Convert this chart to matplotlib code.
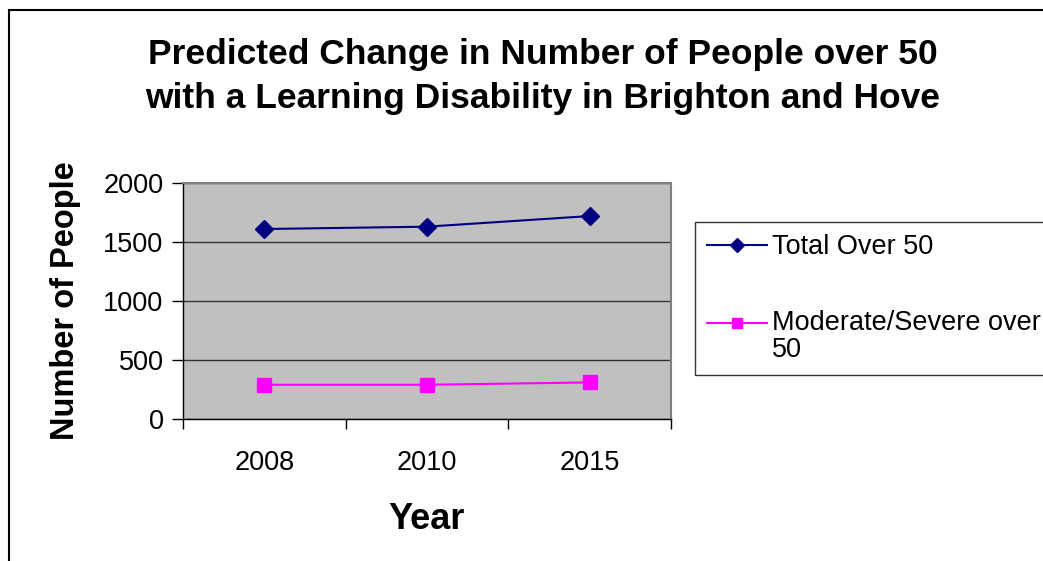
import numpy as np
import matplotlib
matplotlib.use('Agg')
import matplotlib.pyplot as plt
from matplotlib.patches import Rectangle
from matplotlib.legend_handler import HandlerLine2D

# data
years = ['2008', '2010', '2015']
total_over_50 = [1610, 1630, 1720]
moderate_severe_over_50 = [290, 290, 310]
y_ticks = [0, 500, 1000, 1500, 2000]

plt.rcParams['font.family'] = ['Liberation Sans', 'DejaVu Sans']

W, H = 1043, 561
fig = plt.figure(figsize=(W / 100, H / 100), dpi=100)


class TopLineHandler(HandlerLine2D):
    # put the legend handle next to the first line of a two line label
    def __init__(self, shift, **kw):
        super().__init__(**kw)
        self.shift = shift

    def create_artists(self, legend, orig_handle, xdescent, ydescent, width, height,
                       fontsize, trans):
        return super().create_artists(legend, orig_handle, xdescent, ydescent - self.shift,
                                      width, height, fontsize, trans)


# outer chart border (left and top visible, rest cut off)
fig.add_artist(Rectangle((9 / W, -0.1), 1.2, 1.1 - 10 / H, transform=fig.transFigure,
                         fill=False, edgecolor='black', linewidth=1.5, clip_on=False))

ax = fig.add_axes([183 / W, 1 - 419 / H, (671 - 183) / W, (419 - 183) / H])
ax.set_facecolor('#C0C0C0')

x = np.arange(len(years))
l1, = ax.plot(x, total_over_50, color='#000080', marker='D', markersize=9.5, linewidth=1.5,
              label='Total Over 50')
l2, = ax.plot(x, moderate_severe_over_50, color='#FF00FF', marker='s', markersize=9.5,
              linewidth=1.5, label='Moderate/Severe over\n50')

ax.set_xlim(-0.5, len(years) - 0.5)
ax.set_ylim(0, 2000)
ax.set_yticks(y_ticks)
ax.set_yticklabels([str(v) for v in y_ticks], fontsize=19.5)
ax.set_xticks(x)
ax.set_xticklabels(years, fontsize=19.5)
ax.set_xticks(np.arange(len(years) + 1) - 0.5, minor=True)
ax.tick_params(axis='x', which='major', length=0, pad=22)
ax.tick_params(axis='x', which='minor', length=7, width=1, direction='out')
ax.tick_params(axis='y', length=8, width=1, direction='out', pad=6)

ax.yaxis.grid(True, color='#333333', linewidth=1)
ax.set_axisbelow(True)

for side in ['top', 'right']:
    ax.spines[side].set_color('#808080')
    ax.spines[side].set_linewidth(1.5)
for side in ['left', 'bottom']:
    ax.spines[side].set_color('black')
    ax.spines[side].set_linewidth(1)

ax.set_ylabel('Number of People', fontsize=23.5, fontweight='bold')
ax.yaxis.set_label_coords(-0.209, 0.5)
ax.set_xlabel('Year', fontsize=26, fontweight='bold')
ax.xaxis.set_label_coords(0.5, -0.352)

fig.text(543 / W, 1 - 76.5 / H,
         'Predicted Change in Number of People over 50\nwith a Learning Disability in Brighton and Hove',
         ha='center', va='center', fontsize=25.5, fontweight='bold', linespacing=1.45)

leg = fig.legend(handles=[l1, l2], loc='upper left', bbox_to_anchor=(695 / W, 1 - 222 / H),
                 borderaxespad=0, fontsize=19.5, frameon=True, fancybox=False,
                 edgecolor='black', handlelength=2.2, labelspacing=1.85, borderpad=0.45,
                 handletextpad=0.2, markerscale=0.8,
                 handler_map={l2: TopLineHandler(shift=21)})
leg.get_frame().set_linewidth(1)
leg.get_texts()[1].set_linespacing(1.05)

fig.savefig('out.png', dpi=100)
